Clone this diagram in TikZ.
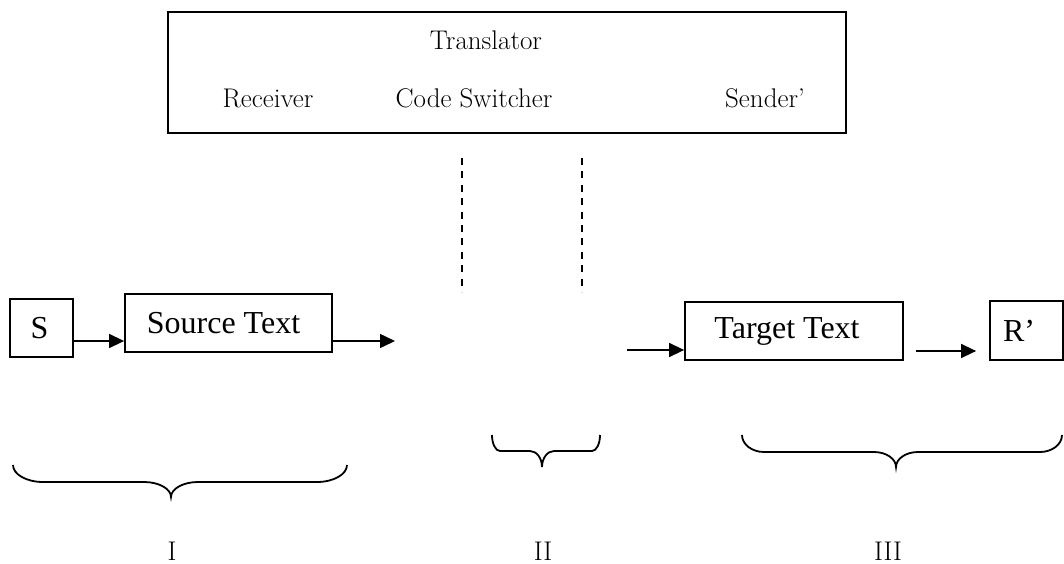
\documentclass[tikz,border=0pt]{standalone}
\usepackage{fontspec}
\newfontfamily\tnr{Liberation Serif}
\usetikzlibrary{arrows.meta,calc}
\newcommand{\wordbrace}[8]{%
  \draw[bracepen] (#1,#3) .. controls (#1,{#3+0.55*(#4-#3)}) and ({#1+0.45*#6},#4) .. ({#1+#6},#4)
    -- ({#8-#7},#4) .. controls ({#8-0.45*#7},#4) and (#8,{#4+0.45*(#5-#4)}) .. (#8,#5)
    .. controls (#8,{#4+0.45*(#5-#4)}) and ({#8+0.45*#7},#4) .. ({#8+#7},#4)
    -- ({#2-#6},#4) .. controls ({#2-0.45*#6},#4) and (#2,{#3+0.55*(#4-#3)}) .. (#2,#3);}
\tikzset{
  box/.style={draw, line width=1.8pt, inner sep=0pt, font=\tnr\fontsize{32}{38}\selectfont},
  arr/.style={line width=1.5pt, -{Triangle[length=15pt,width=14pt]}},
  gtext/.style={font=\fontsize{27}{31}\selectfont, inner sep=0pt, anchor=base},
  bracepen/.style={line width=1.8pt},
  dashline/.style={line width=2pt, dash pattern=on 7pt off 6.4pt},
}
\begin{document}
\begin{tikzpicture}[x=1pt,y=-1pt]
\useasboundingbox (0,0) rectangle (1064,564);
% translator box
\node[box, line width=2pt, minimum width=678pt, minimum height=121pt] (trans) at (507,72.5) {};
\node[gtext] (translator) at (486,50) {Translator};
\node[gtext] (receiver) at (268,108) {Receiver};
\node[gtext] (coder) at (474,108) {Code Switcher};
\node[gtext] (sender) at (765,108) {Sender’};
% dashed lines
\draw[dashline] (462,158) -- (462,292);
\draw[dashline] (582,158) -- (582,292);
% boxes
\node[box, minimum width=63pt, minimum height=58pt] (S) at (41.5,328) {S\hspace*{4pt}};
\node[box, minimum width=207pt, minimum height=58pt] (src) at (228.5,323) {Source Text\hspace*{10pt}};
\node[box, minimum width=218pt, minimum height=58pt] (tgt) at (794,331) {Target Text\hspace*{14pt}};
\node[box, minimum width=73pt, minimum height=59pt] (R) at (1026.5,330.5) {R’\hspace*{15pt}};
% arrows
\coordinate (y1) at (0,341);
\coordinate (e2) at (395,341);
\coordinate (s3) at (627,350);
\coordinate (y4) at (0,351);
\draw[arr] (S.east |- y1) -- (src.west |- y1);
\draw[arr] (src.east |- e2) -- (e2);
\draw[arr] (s3) -- (tgt.west |- s3);
\draw[arr] ([xshift=12pt]tgt.east |- y4) -- ([xshift=-13pt]R.west |- y4);
% braces
\wordbrace{13}{347}{465}{482}{497}{30}{27}{171}
\wordbrace{492}{600}{435}{451}{467}{8}{12}{542}
\wordbrace{742}{1062}{435}{452}{467}{22}{22}{896}
% numerals
\node[gtext] (n1) at (172,560) {I};
\node[gtext] (n2) at (543,560) {II};
\node[gtext] (n3) at (888,560) {III};
\end{tikzpicture}
\end{document}
